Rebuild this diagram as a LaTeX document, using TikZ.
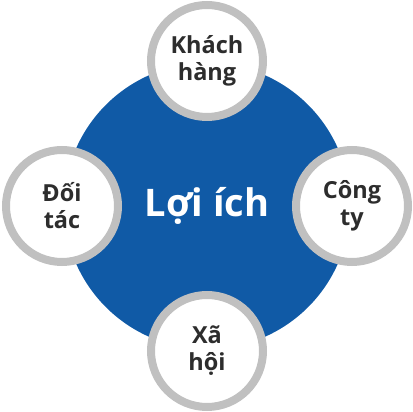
\documentclass[tikz,border=0pt]{standalone}
\usepackage{fontspec}
\setmainfont{Open Sans}
\definecolor{lcblue}{RGB}{16,90,166}
\definecolor{lcgray}{RGB}{192,192,192}
\definecolor{lctext}{RGB}{45,45,45}
\usetikzlibrary{positioning}

\begin{document}
\begin{tikzpicture}[x=1pt,y=1pt,
    hub/.style={circle,fill=lcblue,minimum size=286pt,inner sep=0pt,
      text=white,font=\fontsize{38}{42}\selectfont\bfseries},
    spoke/.style={circle,draw=lcgray,line width=8pt,fill=white,
      minimum size=112pt,inner sep=0pt,align=center,text=lctext,
      font=\fontsize{23.5}{27}\selectfont\bfseries}]
  \useasboundingbox (0,0) rectangle (413,412);

  %% Center circle
  \node[hub] (benefit) at (207,206) {Lợi ích};

  %% Four surrounding circles
  \node[spoke] (customer) at (207,351) {Khách\\hàng};
  \node[spoke] (partner)  at (62,206)  {Đối\\tác};
  \node[spoke] (company)  at (352,206) {Công\\ty};
  \node[spoke] (society)  at (207,61)  {Xã\\hội};
\end{tikzpicture}
\end{document}
